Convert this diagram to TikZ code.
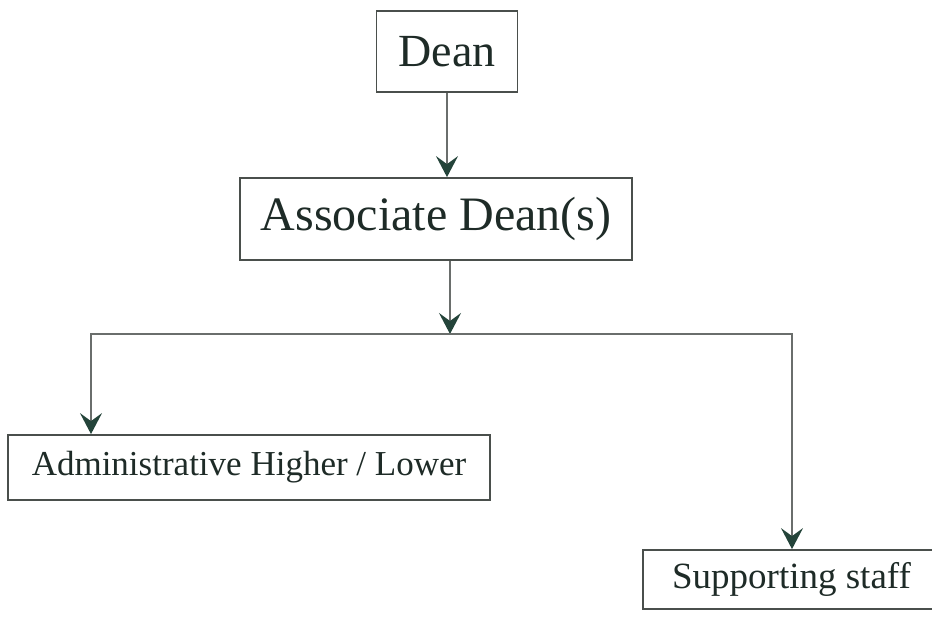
\documentclass[tikz,border=0pt]{standalone}
\usepackage{fontspec}
\setmainfont{Liberation Serif}
\usetikzlibrary{arrows.meta}
\definecolor{boxc}{HTML}{4A4F4C}
\definecolor{linec}{HTML}{6A6E6C}
\definecolor{txtc}{HTML}{1E2B27}
\definecolor{arrc}{HTML}{24443A}
\tikzset{
  orgbox/.style={draw=boxc, line width=1.8pt, inner sep=0pt, text=txtc, fill=white},
  conn/.style={draw=linec, line width=1.4pt},
  arr/.style={conn, -{Stealth[length=21pt,width=22pt,inset=8pt,color=arrc]}}
}
\begin{document}
\begin{tikzpicture}[x=1pt,y=-1pt]
\useasboundingbox (0,0) rectangle (932,618);
\node[orgbox, minimum width=141pt, minimum height=81pt, font=\fontsize{46}{50}\selectfont] (dean) at (447,51.5) {Dean};
\node[orgbox, minimum width=392pt, minimum height=82pt, font=\fontsize{48}{52}\selectfont] (assoc) at (436,219) {Associate Dean(s)};
\node[orgbox, minimum width=482pt, minimum height=65pt, font=\fontsize{35}{40}\selectfont] (admin) at (249,467.5) {Administrative Higher / Lower};
\node[orgbox, minimum width=297pt, minimum height=59pt, font=\fontsize{37}{42}\selectfont] (supp) at (791.5,579.5) {Supporting staff};
\coordinate (j) at (450,334);
\coordinate (lc) at (91,334);
\coordinate (rc) at (792,334);
\draw[arr] (dean.south) -- (dean.south |- assoc.north);
\draw[arr] (assoc.south -| j) -- (j);
\draw[arr] (j) -- (lc) -- (lc |- admin.north);
\draw[arr] (j) -- (rc) -- (rc |- supp.north);
\end{tikzpicture}
\end{document}
